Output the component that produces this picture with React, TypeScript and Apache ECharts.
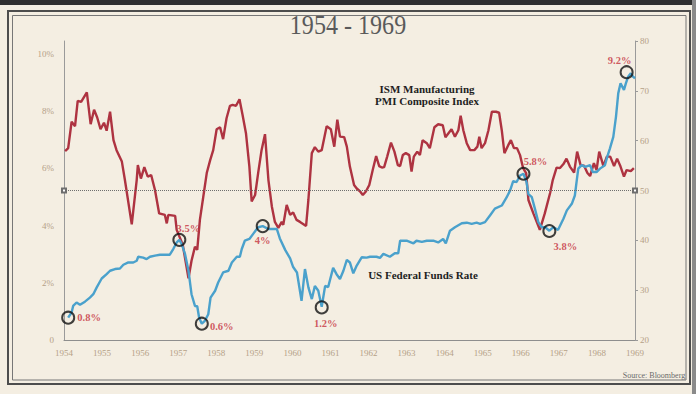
import React, { useEffect, useRef } from "react";
import * as echarts from "echarts";

// ISM Manufacturing PMI (right axis)
const pmiYears = [
  1954.03, 1954.11, 1954.2, 1954.29, 1954.36, 1954.45, 1954.6, 1954.7, 1954.79, 1954.87, 1954.96,
  1955.05, 1955.12, 1955.21, 1955.3, 1955.38, 1955.52, 1955.6, 1955.78, 1955.91, 1955.94,
  1956.02, 1956.11, 1956.2, 1956.29, 1956.39, 1956.5, 1956.65, 1956.7, 1956.74, 1956.92, 1956.96,
  1957.12, 1957.27, 1957.35, 1957.44, 1957.5, 1957.57, 1957.66, 1957.75, 1957.84, 1957.92,
  1958.01, 1958.1, 1958.18, 1958.27, 1958.36, 1958.43, 1958.52, 1958.61, 1958.69, 1958.78, 1958.87, 1958.93,
  1959.02, 1959.1, 1959.19, 1959.28, 1959.37, 1959.46, 1959.54, 1959.63, 1959.72, 1959.76, 1959.85, 1959.94,
  1960.02, 1960.11, 1960.2, 1960.36, 1960.42, 1960.51, 1960.59, 1960.68, 1960.77, 1960.9,
  1961.01, 1961.1, 1961.18, 1961.25, 1961.36, 1961.43, 1961.51, 1961.62, 1961.69, 1961.78, 1961.85, 1961.93,
  1962.02, 1962.11, 1962.2, 1962.28, 1962.35, 1962.41, 1962.49, 1962.59, 1962.68, 1962.77, 1962.83, 1962.9, 1962.98,
  1963.07, 1963.13, 1963.19, 1963.28, 1963.35, 1963.42, 1963.53, 1963.61, 1963.73, 1963.83, 1963.95,
  1964.02, 1964.1, 1964.18, 1964.27, 1964.36, 1964.42, 1964.49, 1964.58, 1964.67, 1964.78, 1964.86, 1964.91, 1964.97,
  1965.06, 1965.15, 1965.24, 1965.35, 1965.43, 1965.5, 1965.57, 1965.67, 1965.74, 1965.82, 1965.9, 1965.98,
  1966.06, 1966.14, 1966.2, 1966.33, 1966.5, 1966.63, 1966.77, 1966.84, 1966.94,
  1967.03, 1967.12, 1967.2, 1967.29, 1967.4, 1967.48, 1967.57, 1967.66, 1967.75, 1967.82, 1967.92, 1967.99,
  1968.06, 1968.17, 1968.26, 1968.35, 1968.45, 1968.53, 1968.62, 1968.71, 1968.78, 1968.89, 1968.97,
];
const pmiValues = [
  57.9, 58.5, 63.8, 62.9, 68.0, 67.8, 69.7, 63.3, 66.2, 64.7, 62.3,
  63.6, 62.0, 65.8, 60.1, 58.1, 55.8, 52.1, 43.2, 52.1, 55.1,
  52.4, 54.7, 52.8, 53.1, 50.1, 45.4, 45.1, 43.4, 45.1, 44.9, 42.1,
  39.1, 32.4, 35.9, 38.7, 38.1, 44.1, 48.8, 53.5, 56.1, 58.1,
  62.3, 62.7, 60.3, 64.5, 67.0, 67.2, 67.0, 68.3, 65.2, 61.5, 54.8, 47.8,
  49.1, 53.5, 58.1, 61.3, 52.1, 46.8, 43.7, 42.5, 43.7, 43.1, 47.1, 45.1,
  45.6, 44.1, 43.7, 42.9, 48.1, 57.5, 58.7, 57.8, 58.1, 62.9,
  62.3, 58.8, 64.2, 60.8, 60.7, 58.8, 54.8, 51.1, 50.4, 49.8, 49.1, 49.8,
  51.1, 54.1, 56.9, 54.9, 54.6, 54.7, 56.8, 59.6, 57.8, 55.1, 54.9, 57.1, 57.5,
  57.1, 53.8, 56.8, 57.8, 57.1, 60.1, 59.5, 58.5, 62.7, 63.3, 63.1,
  60.7, 61.5, 62.3, 60.8, 62.1, 65.0, 62.1, 59.5, 58.1, 58.1, 58.8, 60.8, 58.5,
  59.5, 62.1, 65.8, 65.8, 65.6, 62.1, 57.5, 59.1, 60.1, 58.5, 58.5, 57.1,
  54.5, 53.5, 48.1, 45.4, 42.1, 45.4, 49.5, 52.1, 54.6,
  54.5, 55.3, 56.4, 54.8, 53.6, 57.8, 55.1, 55.0, 53.5, 52.9, 55.5, 54.1,
  57.8, 54.9, 56.8, 56.8, 54.9, 56.4, 54.8, 52.8, 54.1, 53.9, 54.5,
];

// US Federal Funds Rate (left axis, %)
const fedYears = [
  1954.11, 1954.2, 1954.24, 1954.33, 1954.42, 1954.55, 1954.68, 1954.77, 1954.86, 1954.99,
  1955.12, 1955.21, 1955.34, 1955.47, 1955.56, 1955.69, 1955.82, 1955.91, 1955.95,
  1956.08, 1956.17, 1956.26, 1956.39, 1956.52, 1956.65, 1956.78, 1956.87, 1956.96,
  1957.03, 1957.09, 1957.18, 1957.27, 1957.35, 1957.44, 1957.5, 1957.55, 1957.62, 1957.7, 1957.79, 1957.85, 1957.97,
  1958.05, 1958.18, 1958.32, 1958.41, 1958.54, 1958.62, 1958.67, 1958.75, 1958.87, 1958.97,
  1959.1, 1959.22, 1959.37, 1959.48, 1959.59, 1959.67, 1959.81, 1959.94,
  1960.02, 1960.12, 1960.24, 1960.33, 1960.42, 1960.51, 1960.59, 1960.68, 1960.77, 1960.86, 1960.94,
  1961.07, 1961.16, 1961.25, 1961.34, 1961.43, 1961.51, 1961.6, 1961.69, 1961.82, 1961.95,
  1962.04, 1962.21, 1962.3, 1962.39, 1962.56, 1962.69, 1962.78, 1962.83,
  1963.0, 1963.18, 1963.26, 1963.4, 1963.53, 1963.7, 1963.83, 1963.96,
  1964.03, 1964.14, 1964.27, 1964.45, 1964.58, 1964.71, 1964.84, 1964.93,
  1965.06, 1965.19, 1965.32, 1965.5, 1965.63, 1965.72, 1965.8, 1965.89, 1965.98,
  1966.07, 1966.15, 1966.2, 1966.29, 1966.37, 1966.46, 1966.55, 1966.64, 1966.75, 1966.85, 1966.98,
  1967.12, 1967.21, 1967.34, 1967.42, 1967.47, 1967.51, 1967.6, 1967.69, 1967.82, 1967.89, 1967.99,
  1968.08, 1968.21, 1968.27, 1968.34, 1968.43, 1968.5, 1968.56, 1968.62, 1968.71, 1968.76, 1968.82, 1968.89, 1968.95, 1969.0,
];
const fedValues = [
  0.78, 0.96, 1.19, 1.31, 1.23, 1.34, 1.48, 1.6, 1.84, 2.15,
  2.3, 2.42, 2.48, 2.5, 2.63, 2.71, 2.71, 2.77, 2.91,
  2.88, 2.83, 2.91, 2.95, 2.98, 2.98, 2.98, 3.18, 3.41,
  3.5, 3.36, 3.0, 2.42, 1.6, 1.19, 1.18, 0.78, 0.57, 0.67, 0.9, 1.48, 1.72,
  2.01, 2.36, 2.42, 2.71, 2.91, 2.91, 3.18, 3.47, 3.53, 3.71,
  3.94, 3.98, 3.88, 3.88, 3.88, 3.55, 3.15, 2.85,
  2.55, 2.36, 1.37, 2.48, 1.84, 1.43, 1.89, 1.72, 1.16, 1.89, 1.85,
  2.52, 2.3, 2.13, 2.42, 2.8, 2.71, 2.33, 2.6, 2.89, 2.88,
  2.91, 2.91, 2.87, 3.01, 2.91, 3.03, 3.03, 3.47,
  3.47, 3.38, 3.47, 3.43, 3.47, 3.47, 3.41, 3.53,
  3.38, 3.82, 3.94, 4.08, 4.1, 4.06, 4.1, 4.06,
  4.12, 4.35, 4.59, 4.7, 4.99, 5.23, 5.55, 5.52, 5.75,
  5.81, 5.52, 5.1, 4.99, 4.59, 4.12, 3.94, 3.94, 3.82, 3.94, 3.85,
  4.24, 4.53, 4.76, 5.05, 5.58, 5.99, 6.11, 6.05, 6.11, 5.87, 5.87,
  5.99, 6.11, 6.4, 6.69, 7.1, 7.8, 8.62, 8.97, 8.74, 8.97, 9.2, 9.32, 9.2, 9.15,
];

// Circled turning points of the Fed Funds rate
const markerYears = [1954.11, 1957.03, 1957.62, 1959.22, 1960.77, 1966.07, 1966.75, 1968.78];
const markerValues = [0.78, 3.5, 0.57, 3.98, 1.14, 5.81, 3.81, 9.36];
const markerLabels = ["0.8%", "3.5%", "0.6%", "4%", "1.2%", "5.8%", "3.8%", "9.2%"];

const leftTickStep = 2;
const rightTickStep = 10;

const labelOffsets = [
  [21, 0], [9, -11], [20, 3], [0, 14], [4, 16], [12, -12], [16, 16], [-7, -12],
];

const SERIF = '"Liberation Serif", "DejaVu Serif", serif';

export default function App() {
  const ref = useRef<HTMLDivElement>(null);

  useEffect(() => {
    if (!ref.current) return;
    const chart = echarts.init(ref.current, undefined, { renderer: "svg" });

    const pmiData = pmiYears.map((y, i) => [y, pmiValues[i]]);
    const fedData = fedYears.map((y, i) => [y, fedValues[i]]);
    const markerData = markerYears.map((y, i) => ({
      value: [y, markerValues[i]],
      label: { offset: labelOffsets[i] },
    }));

    const tan = "#b5a187";

    chart.setOption({
      animation: false,
      backgroundColor: "#f4eee2",
      grid: { left: 64, right: 61, top: 41, bottom: 54, containLabel: false },
      xAxis: {
        type: "value",
        min: 1954,
        max: 1969,
        interval: 1,
        axisLine: { show: true, lineStyle: { color: "#8e8e8e", width: 1 } },
        axisTick: { show: false },
        splitLine: { show: false },
        axisLabel: {
          color: tan,
          fontFamily: SERIF,
          fontSize: 9,
          margin: 8,
          formatter: (v: number) => String(Math.round(v)),
        },
      },
      yAxis: [
        {
          type: "value",
          position: "left",
          min: 0,
          max: 10.45,
          interval: leftTickStep,
          axisLine: { show: true, lineStyle: { color: "#9a9a9a", width: 1 } },
          axisTick: { show: false },
          splitLine: { show: false },
          axisLabel: {
            color: tan,
            fontFamily: SERIF,
            fontSize: 9,
            margin: 10,
            showMaxLabel: false,
            formatter: (v: number) =>
              Math.abs(v % leftTickStep) > 1e-6 ? "" : v === 0 ? "0" : `${v}%`,
          },
        },
        {
          type: "value",
          position: "right",
          min: 20,
          max: 80,
          interval: rightTickStep,
          axisLine: { show: true, lineStyle: { color: "#9a9a9a", width: 1 } },
          axisTick: { show: true, length: 3, lineStyle: { color: "#9a9a9a" } },
          splitLine: { show: false },
          axisLabel: { color: tan, fontFamily: SERIF, fontSize: 9, margin: 5 },
        },
      ],
      series: [
        {
          name: "ISM Manufacturing PMI Composite Index",
          type: "line",
          xAxisIndex: 0,
          yAxisIndex: 1,
          data: pmiData,
          showSymbol: false,
          symbol: "none",
          lineStyle: { color: "#ae3341", width: 2.4 },
          z: 2,
          markLine: {
            silent: true,
            symbol: ["emptyRect", "emptyRect"],
            symbolSize: 4,
            label: { show: false },
            lineStyle: { color: "#6e6e6e", type: "dotted", width: 1 },
            data: [{ yAxis: 50 }],
          },
        },
        {
          name: "US Federal Funds Rate",
          type: "line",
          xAxisIndex: 0,
          yAxisIndex: 0,
          data: fedData,
          showSymbol: false,
          symbol: "none",
          lineStyle: { color: "#4aa1cc", width: 2.4 },
          z: 3,
        },
        {
          name: "markers",
          type: "scatter",
          xAxisIndex: 0,
          yAxisIndex: 0,
          data: markerData,
          symbol: "circle",
          symbolSize: 12,
          silent: true,
          z: 5,
          itemStyle: { color: "rgba(0,0,0,0)", borderColor: "#111111", borderWidth: 2 },
          label: {
            show: true,
            position: "inside",
            formatter: (p: any) => markerLabels[p.dataIndex],
            color: "#c4303c",
            fontWeight: "bold",
            fontSize: 10.5,
            fontFamily: SERIF,
          },
        },
      ],
      graphic: [
        { type: "rect", shape: { x: 0, y: 0, width: 696, height: 5 }, style: { fill: "#2f2f2f" }, silent: true },
        { type: "rect", shape: { x: 692, y: 0, width: 4, height: 394 }, style: { fill: "#8a8a8a" }, silent: true },
        {
          type: "rect",
          shape: { x: 8, y: 11, width: 682, height: 373 },
          style: { fill: "none", stroke: "#4d4d4d", lineWidth: 2 },
          silent: true,
        },
        {
          type: "rect",
          shape: { x: 12.5, y: 15.5, width: 673.5, height: 364.5 },
          style: { fill: "none", stroke: "#777777", lineWidth: 1 },
          silent: true,
        },
        {
          type: "text",
          x: 348,
          y: 25,
          scaleX: 0.86,
          style: {
            text: "1954 - 1969",
            fontSize: 28,
            fontFamily: SERIF,
            fill: "#5a5a5a",
            textAlign: "center",
            align: "center",
            textVerticalAlign: "middle",
            verticalAlign: "middle",
          },
          silent: true,
        },
        {
          type: "text",
          x: 427,
          y: 95,
          style: {
            text: "ISM Manufacturing\nPMI Composite Index",
            fontSize: 11,
            fontWeight: "bold",
            fontFamily: SERIF,
            lineHeight: 12,
            fill: "#1e1e1e",
            textAlign: "center",
            align: "center",
            textVerticalAlign: "middle",
            verticalAlign: "middle",
          },
          silent: true,
        },
        {
          type: "text",
          x: 423,
          y: 275,
          style: {
            text: "US Federal Funds Rate",
            fontSize: 11,
            fontWeight: "bold",
            fontFamily: SERIF,
            fill: "#1e1e1e",
            textAlign: "center",
            align: "center",
            textVerticalAlign: "middle",
            verticalAlign: "middle",
          },
          silent: true,
        },
        {
          type: "text",
          x: 654,
          y: 375,
          style: {
            text: "Source: Bloomberg",
            fontSize: 8,
            fontFamily: SERIF,
            fill: "#6a6a6a",
            textAlign: "center",
            align: "center",
            textVerticalAlign: "middle",
            verticalAlign: "middle",
          },
          silent: true,
        },
      ],
    });

    return () => chart.dispose();
  }, []);

  return (
    <div
      ref={ref}
      style={{ position: "absolute", left: 0, top: 0, width: 696, height: 394 }}
    />
  );
}
